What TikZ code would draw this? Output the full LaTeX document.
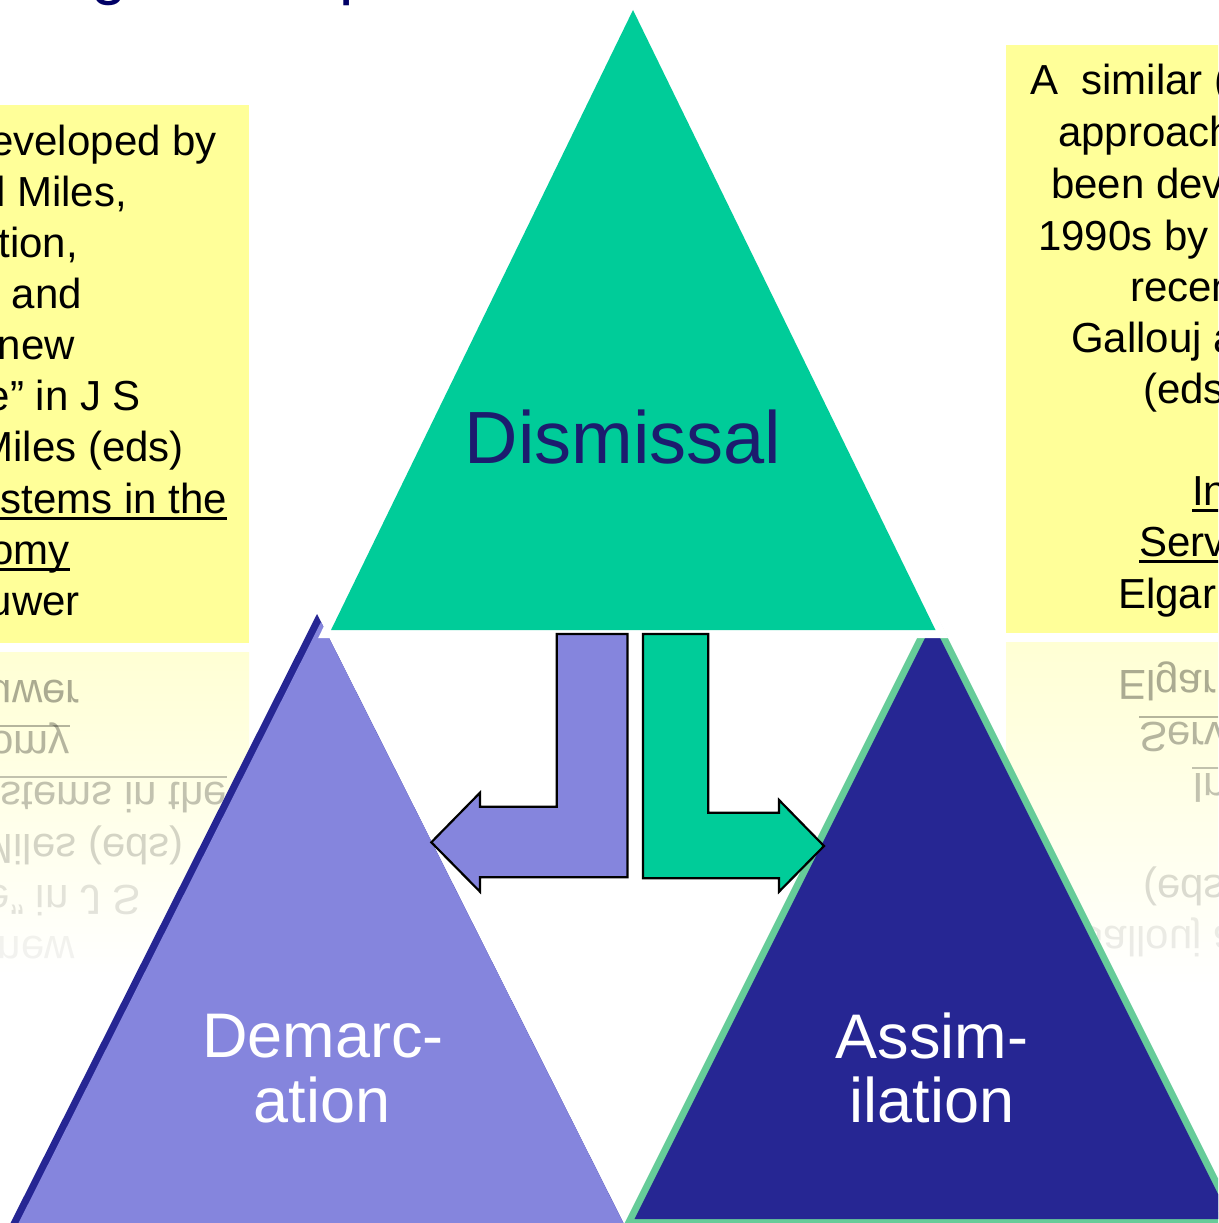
\documentclass[tikz,border=0pt]{standalone}
\usepackage{fontspec}
\setmainfont{Liberation Sans}
\newsavebox\ulbox
\newcommand\myul[1]{\sbox\ulbox{#1}\rlap{\rule[-6.5pt]{\wd\ulbox}{2.6pt}}\usebox\ulbox}
\definecolor{topgreen}{RGB}{0,204,153}
\definecolor{lilac}{RGB}{133,133,221}
\definecolor{navy}{RGB}{38,38,147}
\definecolor{edgegreen}{RGB}{102,204,153}
\definecolor{boxyellow}{RGB}{255,255,153}
\definecolor{refyellow}{RGB}{255,255,212}
\definecolor{dismissblue}{RGB}{28,28,110}
\definecolor{titleblue}{RGB}{0,0,102}
\begin{document}
\begin{tikzpicture}[x=1pt,y=-1pt,
  boxtext/.style={font=\fontsize{42}{50}\selectfont, text=black, inner sep=0pt},
  reftext/.style={boxtext, yscale=-1, text=black},
  tlabel/.style={font=\fontsize{63}{69}\selectfont, text=white, inner sep=0pt, anchor=base},
  blockarrow/.style={draw=black, line width=2.2pt, line join=miter}]
\useasboundingbox (0,0) rectangle (1218,1223);
\clip (0,0) rectangle (1218,1223);
\fill[white] (0,0) rectangle (1218,1223);

% title fragments (cut off at top)
\node[font=\fontsize{64}{70}\selectfont, text=titleblue, inner sep=0pt, anchor=base west] (tg) at (91,-7) {g};
\node[font=\fontsize{64}{70}\selectfont, text=titleblue, inner sep=0pt, anchor=base west] (tp) at (339,-7) {p};

% left yellow box and its reflection
\fill[boxyellow] (-10,105) rectangle (249,643);
\shade[top color=refyellow, bottom color=white] (-10,652) rectangle (249,975);
\node[boxtext, anchor=base east] (l1) at (217,155) {eveloped by};
\node[boxtext, anchor=base east] (l2) at (127,206) {l Miles,};
\node[boxtext, anchor=base east] (l3) at (78,257) {tion,};
\node[boxtext, anchor=base east] (l4) at (82,308) {and};
\node[boxtext, anchor=base east] (l5) at (75,359) {new};
\node[boxtext, anchor=base east] (l6) at (141,410) {e” in J S};
\node[boxtext, anchor=base east] (l7) at (184,461) {Miles (eds)};
\node[boxtext, anchor=base east] (l8) at (227,513) {\myul{stems in the}};
\node[boxtext, anchor=base east] (l9) at (70,564) {\myul{omy}};
\node[boxtext, anchor=base east] (l10) at (80,615) {uwer};
% reflected
\node[reftext, opacity=0.33, anchor=base east] (r10) at (80,680) {uwer};
\node[reftext, opacity=0.29, anchor=base east] (r9) at (70,731) {\myul{omy}};
\node[reftext, opacity=0.24, anchor=base east] (r8) at (227,782) {\myul{stems in the}};
\node[reftext, opacity=0.17, anchor=base east] (r7) at (184,834) {Miles (eds)};
\node[reftext, opacity=0.11, anchor=base east] (r6) at (141,885) {e” in J S};
\node[reftext, opacity=0.05, anchor=base east] (r5) at (75,936) {new};

% right yellow box and its reflection
\fill[boxyellow] (1006,45) rectangle (1230,633);
\shade[top color=refyellow, bottom color=white] (1006,642) rectangle (1230,985);
\node[boxtext, anchor=base west] (m1) at (1030,94) {A\ \ similar (};
\node[boxtext, anchor=base west] (m2) at (1058,146) {approach};
\node[boxtext, anchor=base west] (m3) at (1051,198) {been dev};
\node[boxtext, anchor=base west] (m4) at (1038,250) {1990s by};
\node[boxtext, anchor=base west] (m5) at (1130,301) {recen};
\node[boxtext, anchor=base west] (m6) at (1071,352) {Gallouj a};
\node[boxtext, anchor=base west] (m7) at (1143,403) {(eds};
\node[boxtext, anchor=base west] (m8) at (1192,505) {\myul{In}};
\node[boxtext, anchor=base west] (m9) at (1139,556) {\myul{Serv}};
\node[boxtext, anchor=base west] (m10) at (1118,608) {Elgar};
% reflected
\node[reftext, opacity=0.33, anchor=base west] (s10) at (1118,670) {Elgar};
\node[reftext, opacity=0.29, anchor=base west] (s9) at (1139,722) {\myul{Serv}};
\node[reftext, opacity=0.24, anchor=base west] (s8) at (1192,773) {\myul{In}};
\node[reftext, opacity=0.14, anchor=base west] (s7) at (1143,875) {(eds};
\node[reftext, opacity=0.08, anchor=base west] (s6) at (1071,926) {Gallouj a};

% left triangle (Demarcation) with dark shadow
\fill[navy] (317,614) -- (6,1232) -- (628,1232) -- cycle;
\fill[lilac] (321,622) -- (10,1240) -- (632,1240) -- cycle;

% right triangle (Assimilation) with green outline
\filldraw[fill=navy, draw=edgegreen, line width=14pt, line join=miter] (932.5,623) -- (634.5,1219) -- (1230.5,1219) -- cycle;
\fill[navy] (932.5,623) -- (634.5,1219) -- (1230.5,1219) -- cycle;

% top triangle (Dismissal) with white rim
\draw[white, line width=16pt, line join=miter] (633,10) -- (331,630) -- (935.5,630) -- cycle;
\fill[topgreen] (633,10) -- (331,630) -- (935.5,630) -- cycle;

% block arrows
\filldraw[fill=lilac, blockarrow] (556.7,634) -- (627.4,634) -- (627.4,877.3) -- (480,877.3) -- (480,891.7) -- (431.3,842.3) -- (480,792.7) -- (480,806.7) -- (556.7,806.7) -- cycle;
\filldraw[fill=topgreen, blockarrow] (643,634) -- (708.2,634) -- (708.2,812.7) -- (779,812.7) -- (779,800) -- (824,846) -- (779,891.7) -- (779,878.3) -- (643,878.3) -- cycle;

% labels
\node[font=\fontsize{74}{80}\selectfont, text=dismissblue, inner sep=0pt, anchor=base] (dis) at (623,463) {Dismissal};
\node[tlabel] (dem1) at (323,1057) {Demarc-};
\node[tlabel] (dem2) at (322,1122) {ation};
\node[tlabel] (ass1) at (932,1058) {Assim-};
\node[tlabel] (ass2) at (932,1122) {ilation};
\end{tikzpicture}
\end{document}
